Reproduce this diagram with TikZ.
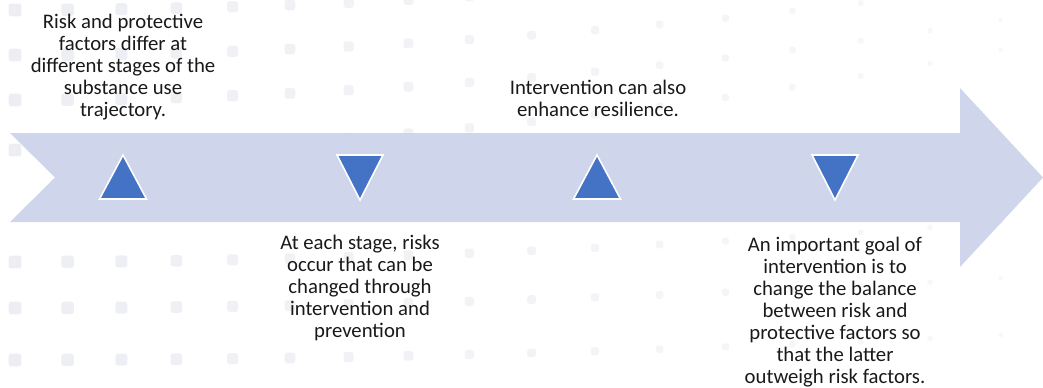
\documentclass[tikz,border=0pt]{standalone}
\usepackage{fontspec}
\setmainfont{Carlito}
\usepackage{xcolor}
\usepackage{tikz}
\usetikzlibrary{positioning, calc}

\definecolor{bandblue}{HTML}{CFD5EA}
\definecolor{markblue}{HTML}{4472C4}
\definecolor{dotgrey}{HTML}{EDEEF3}

\begin{document}
\begin{tikzpicture}[
		x=0.02cm, y=-0.02cm,
		band/.style={fill=bandblue},
		stagemark/.style={fill=markblue, draw=white, line width=0.9pt, line join=miter},
		note/.style={align=center, font=\fontsize{11.8}{12.5}\selectfont, text=black!90, inner sep=0pt, anchor=base},
		bgdot/.style={fill=dotgrey, rounded corners=1.5pt}
		]
		\useasboundingbox (0,0) rectangle (1043,387);
		
		% Faint dots in the background, rows bending up towards the right
		\begin{scope}
			\clip (0,0) rectangle (1043,387);
			\foreach \y/\k in {10/6, 55/7, 100/8, 150/10, 262/4, 308/3, 360/2.5}{
				\foreach \i in {0,...,17}{
					\pgfmathsetmacro{\px}{15+52*\i+0.6*\i*\i}
					\pgfmathsetmacro{\py}{\y-\k*(\px/100)*(\px/100)/10}
					\pgfmathsetmacro{\s}{6.5-4*\px/1000}
					\pgfmathsetmacro{\op}{1-0.6*\px/1000}
					\fill[bgdot, fill opacity=\op] (\px-\s,\py-\s) rectangle (\px+\s,\py+\s);
				}
			}
		\end{scope}
		
		% Big arrow with notched tail
		\fill[band] (10,133) -- (960,133) -- (960,88) -- (1043,177.5) -- (960,267)
			-- (960,222) -- (10,222) -- (55,177.5) -- cycle;
		
		% Stage positions along the arrow
		\coordinate (s1) at (123,177);
		\coordinate (s2) at (360,177);
		\coordinate (s3) at (597,177);
		\coordinate (s4) at (835,177);
		
		% Up and down markers
		\draw[stagemark] ($(s1)+(0,-22)$) -- ($(s1)+(23.5,22)$) -- ($(s1)+(-23.5,22)$) -- cycle;
		\draw[stagemark] ($(s2)+(-23,-22)$) -- ($(s2)+(23,-22)$) -- ($(s2)+(0,23)$) -- cycle;
		\draw[stagemark] ($(s3)+(0,-22)$) -- ($(s3)+(23.5,22)$) -- ($(s3)+(-23.5,22)$) -- cycle;
		\draw[stagemark] ($(s4)+(-23,-22)$) -- ($(s4)+(23,-22)$) -- ($(s4)+(0,23)$) -- cycle;
		
		% Notes above and below the arrow (placed by the baseline of their last line)
		\node[note] (n1) at (123,116) {Risk and protective\\factors differ at\\different stages of the\\substance use\\trajectory.};
		\node[note] (n2) at (360,337) {At each stage, risks\\occur that can be\\changed through\\intervention and\\prevention};
		\node[note] (n3) at (598,116) {Intervention can also\\enhance resilience.};
		\node[note] (n4) at (835,383) {An important goal of\\intervention is to\\change the balance\\between risk and\\protective factors so\\that the latter\\outweigh risk factors.};
		
	\end{tikzpicture}
\end{document}
